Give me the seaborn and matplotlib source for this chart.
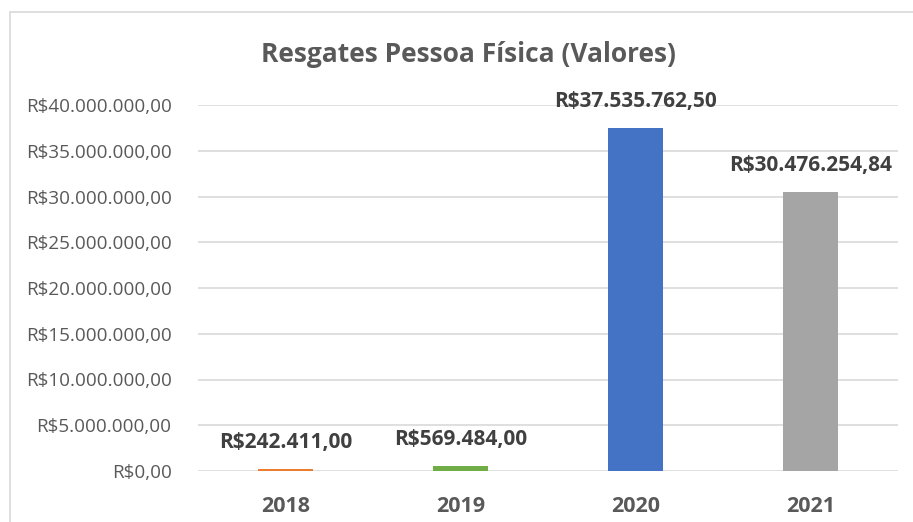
import pandas as pd
import seaborn as sns
import matplotlib.pyplot as plt
from matplotlib.patches import Rectangle
from matplotlib.ticker import FuncFormatter

# valores
anos = ["2018", "2019", "2020", "2021"]
valores = [242411.00, 569484.00, 37535762.50, 30476254.84]
cores = ["#ED7D31", "#70AD47", "#4472C4", "#A5A5A5"]

df = pd.DataFrame({"Ano": anos, "Valor": valores})

def brl(v, pos=None):
    s = f"{v:,.2f}"
    s = s.replace(",", "X").replace(".", ",").replace("X", ".")
    return "R$" + s

sns.set_style("white")
plt.rcParams["font.family"] = ["Open Sans", "DejaVu Sans"]

fig = plt.figure(figsize=(9.13, 5.22), dpi=100)
ax = fig.add_axes([198 / 913, 1 - 471 / 522, 700 / 913, 366 / 522])

sns.barplot(data=df, x="Ano", y="Valor", hue="Ano", palette=cores,
            saturation=1, width=0.314, linewidth=0, legend=False,
            ax=ax, zorder=3)

ax.set_ylim(0, 40000000)
ax.set_yticks(range(0, 40000001, 5000000))
ax.yaxis.set_major_formatter(FuncFormatter(brl))
ax.grid(axis="y", color="#D9D9D9", lw=1.2, zorder=0)
for s in ax.spines.values():
    s.set_visible(False)
ax.tick_params(axis="y", length=0, pad=19, labelsize=13.6, labelcolor="#595959")
ax.tick_params(axis="x", length=0, pad=18, labelsize=15.5)
for t in ax.get_xticklabels():
    t.set_fontweight("bold")
    t.set_color("#595959")
ax.set_xlabel("")
ax.set_ylabel("")

# rótulos de dados
for i, v in enumerate(valores):
    ax.annotate(brl(v), (i, v), xytext=(0, 19), textcoords="offset points",
                ha="center", va="center", fontsize=15, fontweight="bold",
                color="#404040")

fig.text(468 / 913, 1 - 55 / 522, "Resgates Pessoa Física (Valores)",
         ha="center", va="center", fontsize=19, fontweight="bold",
         color="#595959")

# borda do gráfico (cortada à direita e embaixo)
fig.patches.append(Rectangle((10 / 913, -0.2), 2, 1.2 - 12 / 522,
                             transform=fig.transFigure, fill=False,
                             edgecolor="#D9D9D9", lw=1.2))

fig.savefig("out.png", dpi=100)
